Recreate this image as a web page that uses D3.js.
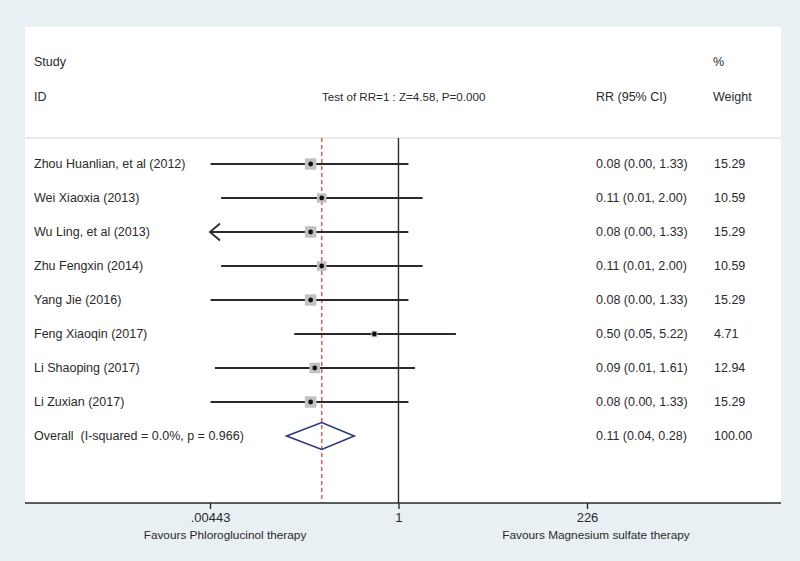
<!DOCTYPE html>
<html><head><meta charset="utf-8">
<script src="https://cdn.jsdelivr.net/npm/d3@7"></script>
<style>
html,body{margin:0;padding:0;background:#e8f0f4;}
svg{display:block;font-family:"Liberation Sans",Arial,sans-serif;}
text{white-space:pre;}
</style></head>
<body><svg id="c" width="800" height="561"></svg>
<script>
const studies = ["Zhou Huanlian, et al (2012)","Wei Xiaoxia (2013)","Wu Ling, et al (2013)","Zhu Fengxin (2014)","Yang Jie (2016)","Feng Xiaoqin (2017)","Li Shaoping (2017)","Li Zuxian (2017)"];
const rr     = [0.08, 0.11, 0.08, 0.11, 0.08, 0.50, 0.09, 0.08];
const lower  = [0.0045, 0.0061, 0.004, 0.0061, 0.0045, 0.05, 0.0051, 0.0045];
const upper  = [1.33, 2.00, 1.33, 2.00, 1.33, 5.22, 1.61, 1.33];
const ciText = ["0.08 (0.00, 1.33)","0.11 (0.01, 2.00)","0.08 (0.00, 1.33)","0.11 (0.01, 2.00)","0.08 (0.00, 1.33)","0.50 (0.05, 5.22)","0.09 (0.01, 1.61)","0.08 (0.00, 1.33)"];
const weights = ["15.29","10.59","15.29","10.59","15.29","4.71","12.94","15.29"];
const weightVals = [15.29,10.59,15.29,10.59,15.29,4.71,12.94,15.29];
const overallLabel = "Overall  (I-squared = 0.0%, p = 0.966)";
const overall = {rr:0.11, lo:0.04, hi:0.28, text:"0.11 (0.04, 0.28)", weight:"100.00"};
const tickValues = [0.00443, 1, 226];
const tickLabels = [".00443", "1", "226"];
const testText = "Test of RR=1 : Z=4.58, P=0.000";
const favourLeft = "Favours Phloroglucinol therapy";
const favourRight = "Favours Magnesium sulfate therapy";

const svg = d3.select("#c");
const fs = 12.5;
const ink = "#2a2a2a";
svg.append("rect").attr("x",25).attr("y",27).attr("width",756).attr("height",476).attr("fill","#ffffff");
svg.append("line").attr("x1",25).attr("x2",781).attr("y1",138).attr("y2",138).attr("stroke","#d4d4d4").attr("stroke-width",1);

const x = d3.scaleLog().domain([tickValues[0], tickValues[2]]).range([210, 587]);
const y = d3.scalePoint().domain(d3.range(studies.length+1)).range([164, 436]);
const boxSide = d3.scaleSqrt().domain([0, 15.29]).range([0, 11.5]);

const T = (t,xx,yy,size,anchor)=>svg.append("text").attr("x",xx).attr("y",yy).attr("dy","0.35em")
  .attr("font-size",size||fs).attr("fill",ink).attr("text-anchor",anchor||"start").text(t);
T("Study",34,62); T("ID",34,97);
T(testText,322,97,11.6);
T("RR (95% CI)",596,97);
T("%",713,62); T("Weight",713,97);

svg.append("line").attr("x1",x(1)).attr("x2",x(1)).attr("y1",138).attr("y2",503).attr("stroke",ink).attr("stroke-width",1.4);
svg.append("line").attr("x1",x(overall.rr)).attr("x2",x(overall.rr)).attr("y1",138).attr("y2",503)
  .attr("stroke","#cc6a62").attr("stroke-width",1.6).attr("stroke-dasharray","4,3");

studies.forEach((s,i)=>{
  const yy = y(i);
  T(s,34,yy);
  T(ciText[i],596,yy);
  T(weights[i],714,yy);
  const x0 = x(Math.max(lower[i], tickValues[0]));
  svg.append("line").attr("x1",x0).attr("x2",x(upper[i])).attr("y1",yy).attr("y2",yy).attr("stroke",ink).attr("stroke-width",1.8);
  if (lower[i] < tickValues[0]) {
    svg.append("path").attr("d",`M${x0+10},${yy-8.5}L${x0},${yy}L${x0+10},${yy+8.5}`).attr("fill","none").attr("stroke",ink).attr("stroke-width",1.8);
  }
  const b = boxSide(weightVals[i]);
  svg.append("rect").attr("x",x(rr[i])-b/2).attr("y",yy-b/2).attr("width",b).attr("height",b).attr("fill","#c2c2c2");
  svg.append("circle").attr("cx",x(rr[i])).attr("cy",yy).attr("r",2.4).attr("fill","#111");
});

const yo = y(studies.length);
T(overallLabel,34,yo);
T(overall.text,596,yo);
T(overall.weight,714,yo);
svg.append("path").attr("d",`M${x(overall.lo)},${yo}L${x(overall.rr)},${yo-13.5}L${x(overall.hi)},${yo}L${x(overall.rr)},${yo+13.5}Z`)
  .attr("fill","none").attr("stroke","#2b3580").attr("stroke-width",1.6);

svg.append("line").attr("x1",25).attr("x2",781).attr("y1",503).attr("y2",503).attr("stroke",ink).attr("stroke-width",1.5);
const ax = svg.append("g").attr("transform","translate(0,503)")
  .call(d3.axisBottom(x).tickValues(tickValues).tickSize(6).tickPadding(4).tickFormat((d,i)=>tickLabels[i]));
ax.select(".domain").remove();
ax.selectAll(".tick line").attr("stroke",ink).attr("stroke-width",1.4);
ax.selectAll(".tick text").attr("font-size",13).attr("fill",ink).attr("font-family","Liberation Sans, Arial, sans-serif");
T(favourLeft,225,535,11.8,"middle");
T(favourRight,596,535,11.8,"middle");
</script></body></html>
